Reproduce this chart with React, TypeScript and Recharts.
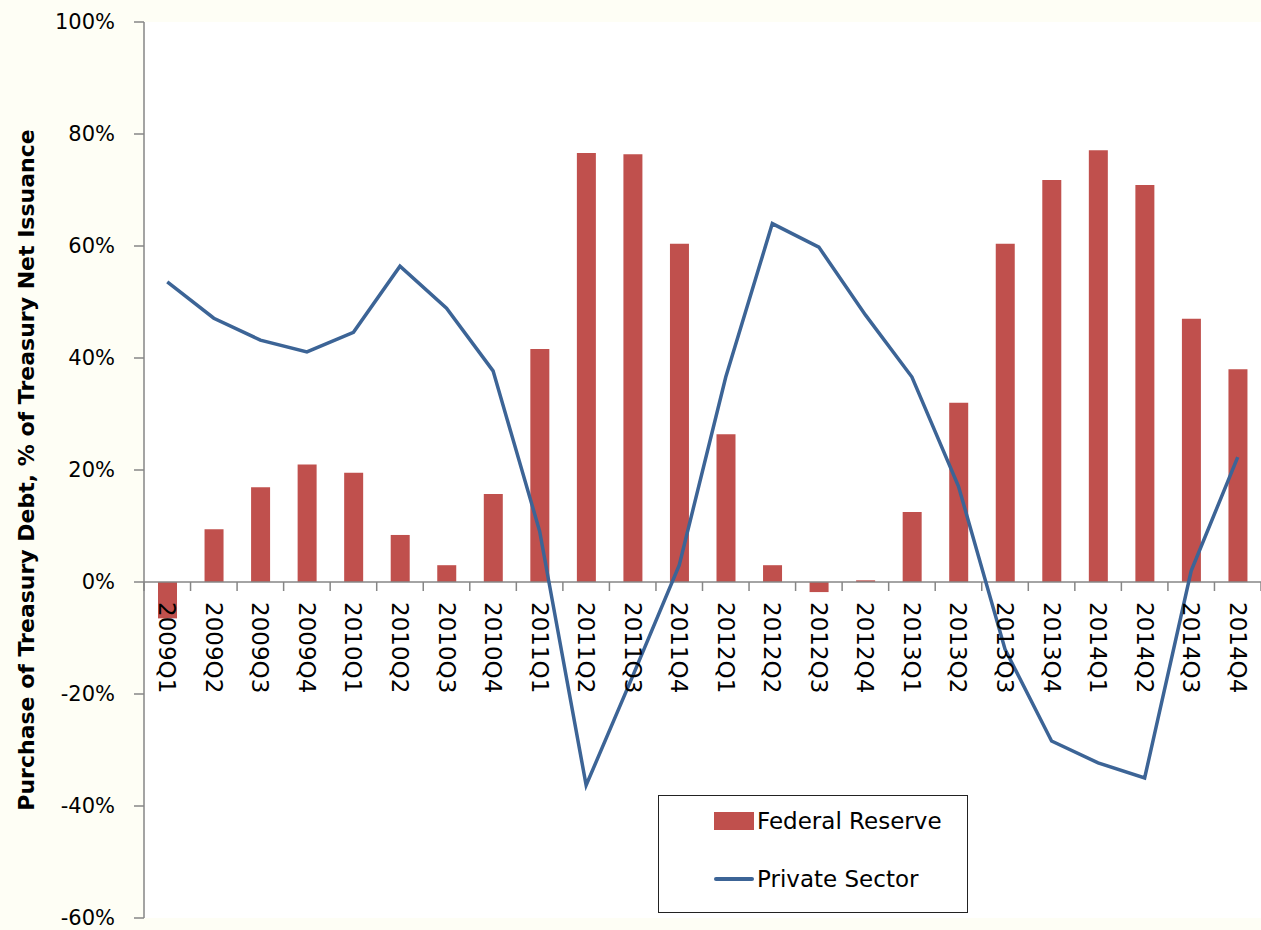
import React from "react"
import { ComposedChart, Bar, Line, XAxis, YAxis, CartesianGrid, ReferenceLine, Legend } from "recharts"

const quarters = [
  "2009Q1", "2009Q2", "2009Q3", "2009Q4",
  "2010Q1", "2010Q2", "2010Q3", "2010Q4",
  "2011Q1", "2011Q2", "2011Q3", "2011Q4",
  "2012Q1", "2012Q2", "2012Q3", "2012Q4",
  "2013Q1", "2013Q2", "2013Q3", "2013Q4",
  "2014Q1", "2014Q2", "2014Q3", "2014Q4",
]

const federalReserve = [
  -6.5, 9.4, 16.9, 21, 19.5, 8.4, 3, 15.7, 41.6, 76.6, 76.4, 60.4,
  26.4, 3.0, -1.8, 0.3, 12.5, 32, 60.4, 71.8, 77.1, 70.9, 47, 38,
]

const privateSector = [
  53.6, 47.1, 43.2, 41.1, 44.6, 56.4, 48.9, 37.7, 9.1, -36.3, -16.8, 3,
  36.6, 64, 59.8, 47.7, 36.6, 17.1, -12, -28.4, -32.3, -35, 2, 22.3,
]

const yTicks = [-60, -40, -20, 0, 20, 40, 60, 80, 100]

const data = quarters.map((q, i) => ({
  quarter: q,
  fed: federalReserve[i],
  priv: privateSector[i],
}))

const W = 1261
const H = 930
const TOP = 22
const LEFT = 144
const XAXIS_H = 12
const PLOT_H = H - TOP - XAXIS_H
const BAND = (W - LEFT) / quarters.length
const Y_MIN = -60
const Y_MAX = 100
const ZERO_Y = TOP + (PLOT_H * Y_MAX) / (Y_MAX - Y_MIN)

const AXIS = "#868686"
const FONT = "'DejaVu Sans', sans-serif"

const QuarterTick = (props: any) => {
  const { x, payload, index } = props
  const left = x - BAND / 2
  return (
    <g>
      <line x1={left} y1={ZERO_Y} x2={left} y2={ZERO_Y + 9} stroke={AXIS} strokeWidth={1.5} />
      {index === quarters.length - 1 && (
        <line x1={left + BAND} y1={ZERO_Y} x2={left + BAND} y2={ZERO_Y + 9} stroke={AXIS} strokeWidth={1.5} />
      )}
      <text
        x={0}
        y={0}
        transform={`translate(${x},${ZERO_Y + 20}) rotate(90)`}
        textAnchor="start"
        dominantBaseline="central"
        fontFamily={FONT}
        fontSize={23}
        fill="#000"
      >
        {payload.value}
      </text>
    </g>
  )
}

const YTitle = () => {
  const cy = TOP + PLOT_H / 2
  return (
    <text
      x={26}
      y={cy}
      transform={`rotate(-90, 26, ${cy})`}
      textAnchor="middle"
      dominantBaseline="central"
      fontFamily={FONT}
      fontWeight="bold"
      fontSize={22}
      fill="#000"
    >
      Purchase of Treasury Debt, % of Treasury Net Issuance
    </text>
  )
}

const LegendBox = () => (
  <div
    style={{
      width: 310,
      height: 118,
      boxSizing: "border-box",
      border: "1.5px solid #222",
      background: "#fff",
      fontFamily: FONT,
      fontSize: 23,
      color: "#000",
      position: "relative",
    }}
  >
    <div style={{ position: "absolute", left: 55, top: 12, display: "flex", alignItems: "center" }}>
      <span style={{ display: "inline-block", width: 40, height: 18, background: "#C0504D", marginRight: 3 }} />
      <span>Federal Reserve</span>
    </div>
    <div style={{ position: "absolute", left: 55, top: 70, display: "flex", alignItems: "center" }}>
      <span style={{ display: "inline-block", width: 40, height: 4, borderRadius: 2, background: "#3C6496", marginRight: 3 }} />
      <span>Private Sector</span>
    </div>
  </div>
)

export default function App() {
  return (
    <div style={{ position: "absolute", left: 0, top: 0, width: W, height: H, background: "#FEFEF5" }}>
      <ComposedChart width={W} height={H} data={data} margin={{ top: TOP, right: 0, bottom: 0, left: 0 }}>
        <CartesianGrid horizontal={false} vertical={false} fill="#ffffff" />
        <XAxis
          dataKey="quarter"
          height={XAXIS_H}
          axisLine={false}
          tickLine={false}
          interval={0}
          tick={<QuarterTick />}
        />
        <YAxis
          width={LEFT}
          domain={[Y_MIN, Y_MAX]}
          ticks={yTicks}
          interval={0}
          tickFormatter={(v: number) => `${v}%`}
          axisLine={{ stroke: AXIS, strokeWidth: 1.5 }}
          tickLine={{ stroke: AXIS, strokeWidth: 1.5 }}
          tickSize={10}
          tickMargin={19}
          tick={{ fill: "#000", fontFamily: FONT, fontSize: 21 }}
          label={<YTitle />}
        />
        <ReferenceLine y={0} stroke={AXIS} strokeWidth={1.5} />
        <Bar dataKey="fed" name="Federal Reserve" fill="#C0504D" barSize={19} isAnimationActive={false} />
        <Line
          dataKey="priv"
          name="Private Sector"
          type="linear"
          stroke="#3C6496"
          strokeWidth={3.5}
          dot={false}
          activeDot={false}
          isAnimationActive={false}
        />
        <Legend
          layout="horizontal"
          verticalAlign="middle"
          align="center"
          wrapperStyle={{ left: 658, top: 795, width: 310, height: 118 }}
          content={() => <LegendBox />}
        />
      </ComposedChart>
    </div>
  )
}
